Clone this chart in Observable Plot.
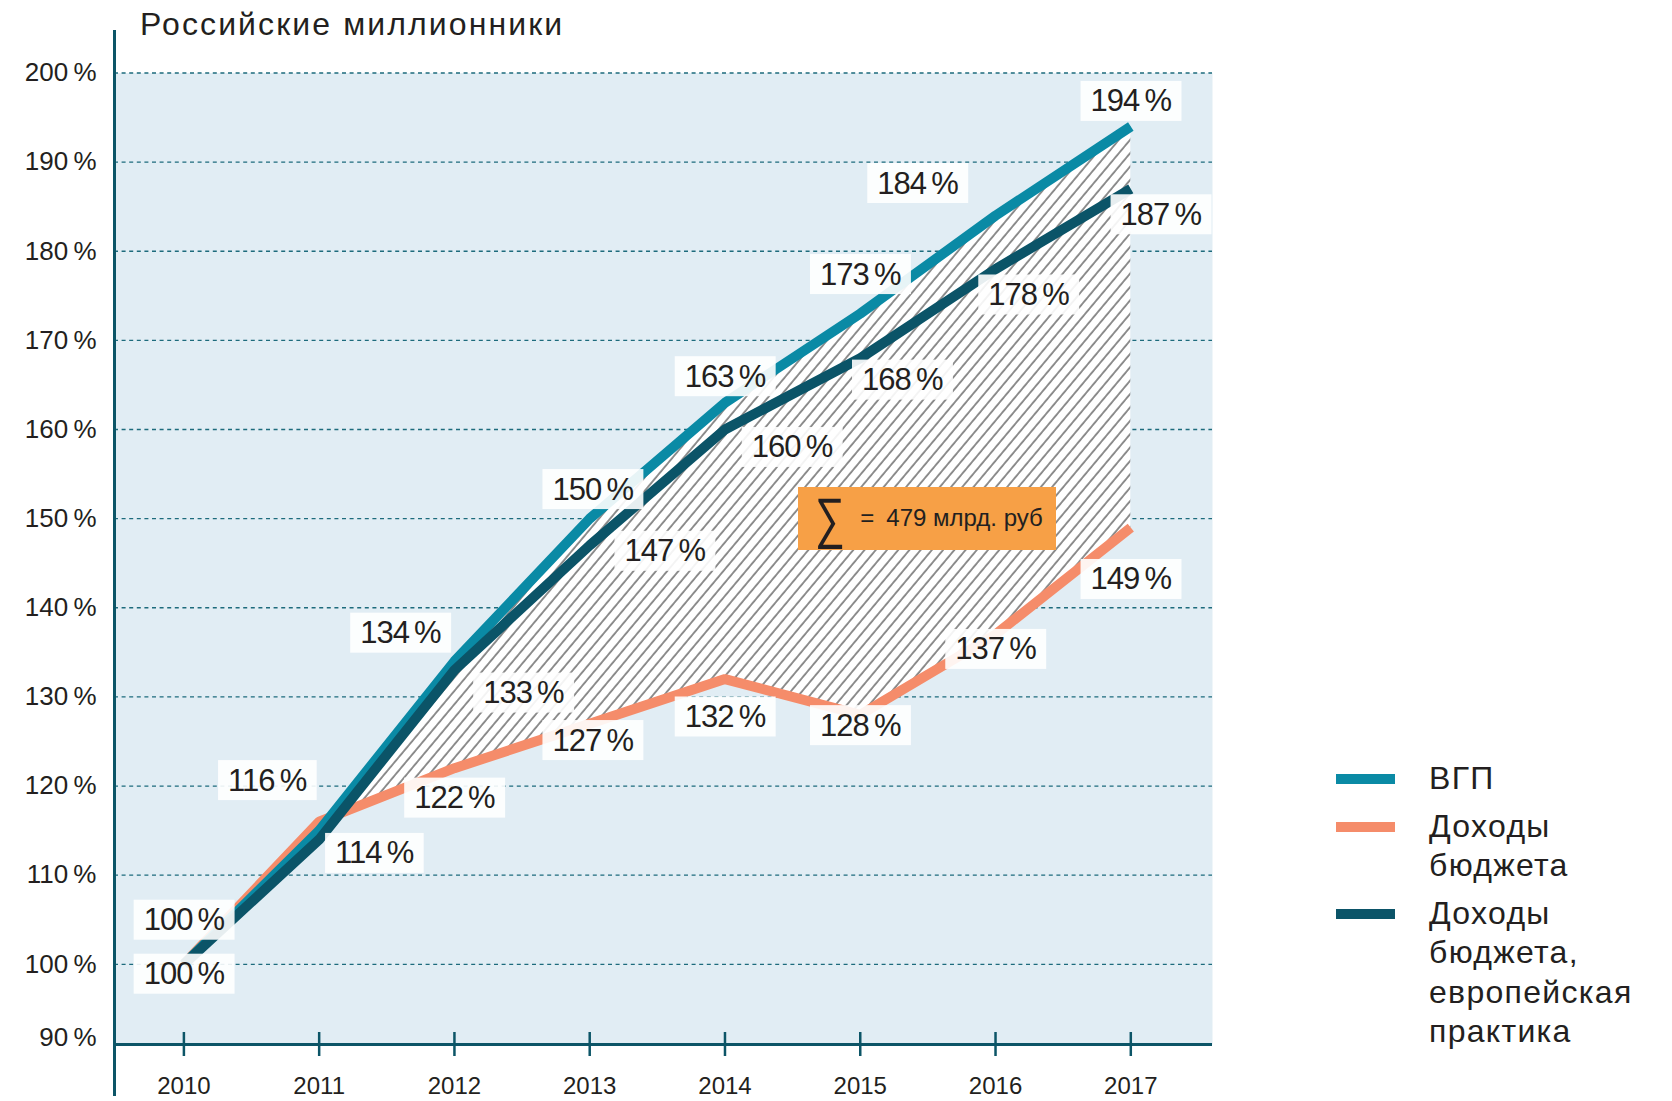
<!DOCTYPE html>
<html>
<head>
<meta charset="utf-8">
<script src="https://cdn.jsdelivr.net/npm/d3@7"></script>
<script src="https://cdn.jsdelivr.net/npm/@observablehq/plot@0.6"></script>
<style>
  body { margin: 0; background: #fff; font-family: "Liberation Sans", Arial, sans-serif; color: #231f20; }
  #wrap { position: relative; width: 1672px; height: 1101px; overflow: hidden; }
  #title { position: absolute; left: 140px; top: 6px; font-size: 32px; line-height: 36px; letter-spacing: 2.1px; white-space: nowrap; }
  #legend { position: absolute; left: 1336px; top: 759px; }
  .item { position: relative; padding-left: 93px; font-size: 32px; line-height: 39.5px; letter-spacing: 1.3px; margin-bottom: 8px; }
  .sw { position: absolute; left: 0; top: 15px; width: 59px; height: 10px; }
  #note { position: absolute; width: 258px; height: 63px; background: #f7a046; display: flex; align-items: center; box-sizing: border-box; padding-left: 12px; white-space: nowrap; }
  #note .sig { font-size: 56px; font-weight: 300; line-height: 1; margin-right: 10px; font-family: "DejaVu Sans", sans-serif; transform: scaleX(0.75); }
  #note .eq { font-size: 24px; margin-right: 12px; }
  #note .txt { font-size: 24px; }
</style>
</head>
<body>
<div id="wrap"></div>
<script>
// ---------- data ----------
const years = [2010, 2011, 2012, 2013, 2014, 2015, 2016, 2017];
const vgp = [100, 115, 134, 150, 163, 173, 184, 194];          // ВГП
const budget = [100, 116, 122, 127, 132, 128, 137, 149];       // Доходы бюджета
const budgetEu = [100, 114, 133, 147, 160, 168, 178, 187];     // Доходы бюджета, европейская практика
const seriesNames = ["ВГП", "Доходы бюджета", "Доходы бюджета, европейская практика"];
const legendLines = [["ВГП"], ["Доходы", "бюджета"], ["Доходы", "бюджета,", "европейская", "практика"]];
const yTicks = [90, 100, 110, 120, 130, 140, 150, 160, 170, 180, 190, 200];
const titleText = "Российские миллионники";
const noteText = "479 млрд. руб";
const noteAt = {year: 2015.5, value: 150};
const unlabelled = {"ВГП": [2010, 2011]};

// ---------- layout / style ----------
const colors = {"ВГП": "#0a8aa5", "Доходы бюджета": "#f58c6a", "Доходы бюджета, европейская практика": "#0b5468"};
const W = 1672, H = 1101, mL = 114, mR = 460, mT = 72.5, mB = 57;
const X0 = 2009.487, X1 = 2017.604, Y0 = 91, Y1 = 200;
const pxX = (W - mL - mR) / (X1 - X0);
const pxY = (H - mT - mB) / (Y1 - Y0);
// label offsets in pixels relative to the point
const labelOffsets = {
  "ВГП": {2012: [-54, -28], 2013: [3, -29], 2014: [0, -26], 2015: [0, -39], 2016: [-78, -32], 2017: [0, -25]},
  "Доходы бюджета": {2010: [0, -44], 2011: [-52, -41], 2012: [0, 30], 2013: [3, 17], 2014: [0, 38], 2015: [0, 11], 2016: [0, 15], 2017: [0, 52]},
  "Доходы бюджета, европейская практика": {2010: [0, 10], 2011: [55, 14], 2012: [69, 23], 2013: [75, 6], 2014: [67, 18], 2015: [42, 22], 2016: [33, 26], 2017: [30, 26]}
};
const axisColor = "#0c5567";

const valuesBy = {[seriesNames[0]]: vgp, [seriesNames[1]]: budget, [seriesNames[2]]: budgetEu};
const rows = seriesNames.flatMap(s => years.map((year, i) => ({series: s, year, value: valuesBy[s][i]})));
const hatchRows = years.map((year, i) => ({year, low: budget[i], high: vgp[i]})).filter(d => d.year >= 2011);
const labelRows = rows
  .filter(d => !(unlabelled[d.series] || []).includes(d.year))
  .map(d => {
    const [dx, dy] = labelOffsets[d.series][d.year] || [0, 0];
    return {...d, lx: d.year + dx / pxX, ly: d.value - dy / pxY};
  });

const fontFam = '"Liberation Sans", Arial, sans-serif';
const lineOpts = s => ({x: "year", y: "value", stroke: colors[s], strokeWidth: 10, strokeLinecap: "butt", strokeLinejoin: "miter"});
const plot = Plot.plot({
  width: W, height: H,
  marginLeft: mL, marginRight: mR, marginTop: mT, marginBottom: mB,
  x: {domain: [X0, X1]},
  y: {domain: [Y0, Y1]},
  style: {fontFamily: fontFam, color: "#231f20", background: "transparent", overflow: "visible"},
  marks: [
    Plot.frame({fill: "#e1edf4", stroke: null}),
    Plot.gridY(yTicks.filter(d => d >= 100), {stroke: "#1d6b7c", strokeOpacity: 1, strokeWidth: 1.3, strokeDasharray: "4,3.6"}),
    Plot.areaY(hatchRows, {x: "year", y1: "low", y2: "high", fill: "url(#hatch)"}),
    Plot.line(rows.filter(d => d.series === seriesNames[1]), lineOpts(seriesNames[1])),
    Plot.line(rows.filter(d => d.series === seriesNames[0]), lineOpts(seriesNames[0])),
    Plot.line(rows.filter(d => d.series === seriesNames[2]), lineOpts(seriesNames[2])),
    Plot.ruleY([Y0], {stroke: axisColor, strokeWidth: 3}),
    Plot.ruleX([X0], {y1: Y0 - 52 / pxY, y2: Y1 + 42.5 / pxY, stroke: axisColor, strokeWidth: 3}),
    Plot.ruleX(years, {y1: Y0 - 12 / pxY, y2: Y0 + 12 / pxY, stroke: axisColor, strokeWidth: 2.5}),
    Plot.axisX({ticks: years, tickSize: 0, tickPadding: 32, tickFormat: d => String(d), fontSize: 24}),
    Plot.axisY({ticks: yTicks.filter(d => d >= 100), tickSize: 0, tickPadding: 18, tickFormat: d => d + "\u2009%", fontSize: 26}),
    Plot.text(yTicks.filter(d => d < Y0), {x: X0, y: Y0, text: d => d + "\u2009%", dx: -18, dy: -7, textAnchor: "end", fontSize: 26}),
    Plot.text(labelRows, {x: "lx", y: "ly", text: d => d.value + "\u2009%", fontSize: 31, textAnchor: "middle", lineAnchor: "middle", fill: "#231f20"})
  ]
});

const wrap = document.getElementById("wrap");
wrap.appendChild(plot);

// hatch pattern
const svg = d3.select(plot);
const defs = svg.insert("defs", ":first-child");
const pat = defs.append("pattern").attr("id", "hatch").attr("patternUnits", "userSpaceOnUse")
  .attr("width", 8.6).attr("height", 8.6).attr("patternTransform", "rotate(40)");
pat.append("rect").attr("width", 8.6).attr("height", 8.6).attr("fill", "#fff");
pat.append("line").attr("x1", 1).attr("y1", -1).attr("x2", 1).attr("y2", 10).attr("stroke", "#858585").attr("stroke-width", 1.8);

// white boxes behind value labels (last text mark)
const textGroups = plot.querySelectorAll('g[aria-label="text"]');
const labelGroup = textGroups[textGroups.length - 1];
d3.select(labelGroup).attr("letter-spacing", "-1px");
d3.select(labelGroup).selectAll("text").each(function () {
  const b = this.getBBox();
  const r = d3.select(this.parentNode).insert("rect", () => this)
    .attr("x", b.x - 10).attr("y", b.y + b.height / 2 - 20)
    .attr("width", b.width + 20).attr("height", 40)
    .attr("fill", "#fff").attr("fill-opacity", 0.9);
  const tr = this.getAttribute("transform");
  if (tr) r.attr("transform", tr);
});

// title
const t = document.createElement("div");
t.id = "title"; t.textContent = titleText;
wrap.appendChild(t);

// legend
const lg = document.createElement("div");
lg.id = "legend";
seriesNames.forEach((s, i) => {
  const it = document.createElement("div");
  it.className = "item";
  const sw = document.createElement("div");
  sw.className = "sw"; sw.style.background = colors[s];
  it.appendChild(sw);
  it.insertAdjacentHTML("beforeend", legendLines[i].join("<br>"));
  lg.appendChild(it);
});
wrap.appendChild(lg);

// note box
const xs = plot.scale("x"), ys = plot.scale("y");
const note = document.createElement("div");
note.id = "note";
note.style.left = (xs.apply(noteAt.year) - 129) + "px";
note.style.top = (ys.apply(noteAt.value) - 31.5) + "px";
note.innerHTML = '<span class="sig">∑</span><span class="eq">=</span><span class="txt">' + noteText + '</span>';
wrap.appendChild(note);
</script>
</body>
</html>
